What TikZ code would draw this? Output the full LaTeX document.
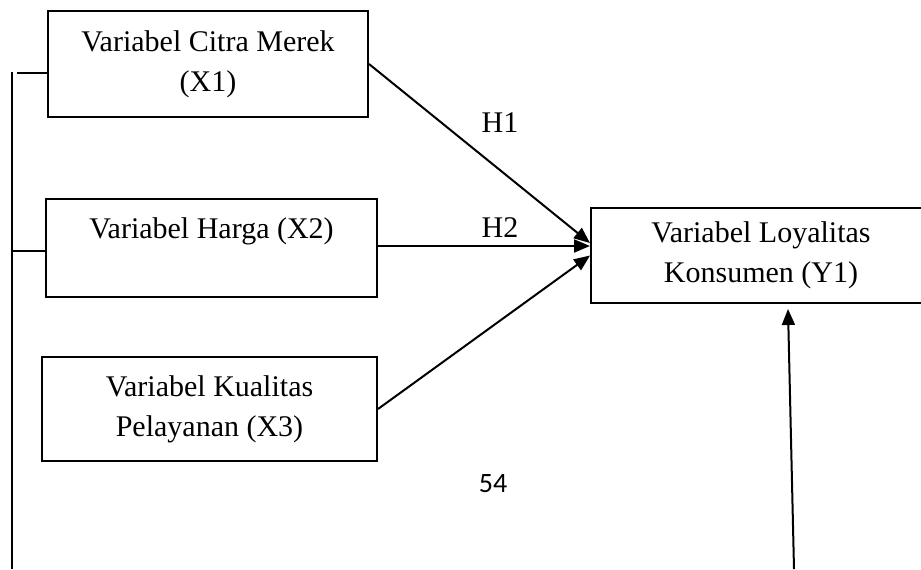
\documentclass[tikz,border=0pt]{standalone}
\usepackage{fontspec}
\setmainfont{Liberation Serif}
\newfontfamily\pagefont{Carlito}
\usetikzlibrary{arrows.meta}

\begin{document}
\begin{tikzpicture}[x=0.5pt,y=-0.5pt]
    % Define styles
    \tikzset{
        varbox/.style={rectangle, draw, line width=1pt, align=center, inner sep=0pt, font=\fontsize{15}{20}\selectfont},
        hyp/.style={font=\fontsize{15}{20}\selectfont},
        arrow/.style={-{Triangle[length=8pt,width=6.5pt]}, line width=1pt},
        rail/.style={line width=1pt}
    }
    \clip (0,0) rectangle (921,569);

    % Nodes
    \node[varbox, minimum width=160pt, minimum height=53pt] (citra_merek) at (208,64) {Variabel Citra Merek\\(X1)};
    \node[varbox, minimum width=165.5pt, minimum height=49pt] (harga) at (211.5,248) {Variabel Harga (X2)\\\mbox{}};
    \node[varbox, minimum width=167.5pt, minimum height=52pt] (kualitas) at (209.5,409) {Variabel Kualitas\\Pelayanan (X3)};
    \node[varbox, minimum width=170pt, minimum height=47.5pt] (loyalitas) at (761,255.5) {Variabel Loyalitas\\Konsumen (Y1)};
    \node[hyp] (h1_label) at (500,123) {H1};
    \node[hyp] (h2_label) at (500,228) {H2};
    \node[font=\pagefont\fontsize{14}{16}\selectfont] (page_number) at (493,484) {54};

    % Arrows
    \draw[arrow] (citra_merek.east) -- ([yshift=6.25pt]loyalitas.west);
    \draw[arrow] ([yshift=1pt]harga.east) -- ([yshift=4.75pt]loyalitas.west);
    \draw[arrow] (kualitas.east) -- (loyalitas.west);

    % Left rail
    \coordinate (rail_top) at (12,72);
    \coordinate (rail_bottom) at (12,569);
    \coordinate (tick_one) at (17,73);
    \coordinate (tick_two) at (12,251);
    \draw[rail] (rail_top) -- (rail_bottom);
    \draw[rail] (tick_one) -- (tick_one -| citra_merek.west);
    \draw[rail] (tick_two) -- (tick_two -| harga.west);

    % Feedback arrow
    \coordinate (feedback_start) at (794,569);
    \draw[arrow] (feedback_start) -- ([xshift=13.5pt,yshift=-2.5pt]loyalitas.south);
\end{tikzpicture}
\end{document}
